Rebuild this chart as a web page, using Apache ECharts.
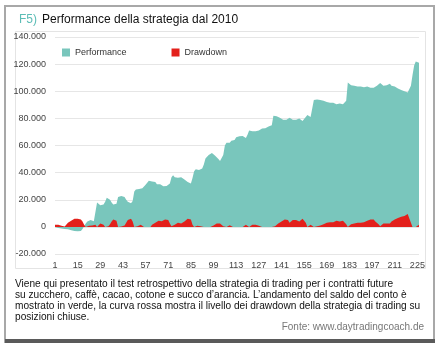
<!DOCTYPE html>
<html>
<head>
<meta charset="utf-8">
<script src="https://cdn.jsdelivr.net/npm/echarts@6/dist/echarts.min.js"></script>
<style>
  html, body { margin: 0; padding: 0; background: #fff; }
  #chart { width: 443px; height: 352px; }
</style>
</head>
<body>
<div id="chart"></div>
<script>
// trade number 1..226
var trades = [];
for (var n = 1; n <= 226; n++) trades.push(String(n));

// account equity (green area)
var performance = [
  0, -500, -800, -1000, -1200, -800, -1500, -2000, -1800, -2200,
  -2500, -2800, -3000, -2600, -3200, -3400, -3000, -1500, 500, 2500,
  4000, 3500, 5000, 4500, 4200, 5000, 18000, 17500, 16000, 15500,
  16500, 18500, 21500, 21000, 20000, 18000, 16500, 16000, 17000, 22000,
  23000, 22800, 22500, 22000, 20000, 18500, 18000, 17500, 19000, 26000,
  27500, 27000, 28000, 27000, 28500, 29500, 31000, 32500, 34000, 35000,
  33500, 33800, 33000, 31500, 31000, 31500, 31000, 30000, 29800, 30200,
  29500, 32000, 36500, 38000, 36500, 36000, 36200, 35500, 36500, 35800,
  35000, 34000, 33000, 32500, 32000, 36000, 41000, 42500, 42800, 42000,
  42500, 43000, 46000, 50500, 51500, 53000, 54000, 54500, 53500, 52500,
  52000, 50000, 48500, 48000, 53000, 60000, 62000, 62500, 62000, 63500,
  64500, 64000, 66000, 66500, 66800, 66500, 67000, 66000, 65500, 68000,
  71000, 71500, 70500, 70000, 70500, 70000, 71000, 72000, 72500, 72000,
  72800, 73500, 74000, 74500, 75000, 82000, 82500, 81500, 81000, 80500,
  80000, 79000, 78500, 79000, 78500, 80500, 80000, 79000, 78500, 79000,
  78500, 80000, 79500, 78000, 78500, 81000, 82500, 81500, 81000, 82000,
  93500, 94500, 94000, 94500, 93500, 94000, 93000, 92500, 92000, 92500,
  91500, 91000, 91500, 91000, 90500, 90500, 91000, 90500, 90500, 91500,
  93000, 106500, 105500, 104500, 105000, 104000, 104500, 103500, 103000, 103500,
  102500, 103000, 104000, 103500, 103000, 102500, 102000, 102500, 103500, 104000,
  104500, 106000, 105000, 104000, 103500, 104500, 104000, 105500, 104000, 103000,
  103500, 102500, 102000, 101500, 101000, 100500, 100000, 99500, 99000, 98500,
  104000, 112000, 119000, 122000, 122500, 121000
];

// closed-position drawdown (red area)
var drawdown = [
  1500, 1800, 1500, 1200, 800, 300, 200, 1500, 3000, 4000,
  4500, 5500, 6000, 6500, 6000, 6500, 5500, 4000, 1500, 0,
  600, 800, 500, 1000, 1200, 1500, 0, 1000, 2500, 3000,
  1500, 0, 0, 500, 2000, 4000, 5500, 6000, 4500, 0,
  0, 300, 800, 1000, 3000, 5000, 5800, 6000, 4000, 0,
  0, 500, 0, 1500, 500, 0, 0, 0, 0, 0,
  1500, 2000, 3000, 4000, 4500, 4000, 4200, 5000, 5500, 4500,
  5000, 2500, 500, 0, 1500, 2500, 3000, 3500, 2500, 3000,
  4000, 5000, 6000, 6500, 5500, 1500, 0, 0, 800, 1200,
  500, 1000, 0, 0, 0, 500, 0, 0, 1000, 2000,
  2500, 3000, 2500, 2000, 500, 0, 0, 800, 1200, 500,
  0, 600, 0, 0, 0, 300, 0, 1000, 1500, 500,
  0, 0, 1500, 2000, 1500, 2000, 800, 0, 0, 500,
  0, 0, 0, 0, 0, 0, 500, 1500, 2500, 3000,
  4000, 5000, 5500, 4500, 5000, 3000, 3500, 5000, 5500, 5000,
  5500, 4000, 4500, 6000, 5500, 3000, 0, 1000, 1500, 500,
  0, 0, 500, 0, 1000, 1500, 2000, 2500, 3000, 2500,
  3500, 4000, 3500, 4000, 4500, 4500, 4000, 4500, 4500, 3500,
  2000, 0, 1000, 2000, 1500, 2500, 2000, 3000, 3500, 3000,
  4000, 3500, 2500, 4500, 5000, 5500, 6000, 5500, 4000, 3000,
  2000, 500, 1500, 2500, 3000, 2500, 3500, 2500, 4000, 5000,
  5500, 6000, 6500, 7000, 7500, 7500, 8000, 8500, 9500, 10000,
  3000, 0, 0, 0, 0, 1500
];

var seriesNames = ['Performance', 'Drawdown'];
var caption = 'Viene qui presentato il test retrospettivo della strategia di trading per i contratti future\n' +
  'su zucchero, caffè, cacao, cotone e succo d’arancia. L’andamento del saldo del conto è\n' +
  'mostrato in verde, la curva rossa mostra il livello dei drawdown della strategia di trading su\n' +
  'posizioni chiuse.';
var source = 'Fonte: www.daytradingcoach.de';

var labelFont = '"Liberation Sans", Arial, sans-serif';

function fmt(v) {
  return String(v).replace(/\B(?=(\d{3})+(?!\d))/g, '.');
}

var chart = echarts.init(document.getElementById('chart'), null, { renderer: 'canvas' });

chart.setOption({
  animation: false,
  backgroundColor: '#fff',
  title: {
    left: 14,
    top: 6,
    text: '{a|F5)} {b|Performance della strategia dal 2010}',
    textStyle: {
      rich: {
        a: { color: '#5cbdb6', fontSize: 12, fontWeight: 'normal', fontFamily: labelFont },
        b: { color: '#111', fontSize: 12, fontWeight: 'normal', fontFamily: labelFont }
      }
    }
  },
  legend: {
    data: seriesNames,
    left: 62,
    top: 48,
    padding: 0,
    icon: 'rect',
    itemWidth: 8,
    itemHeight: 8,
    itemGap: 45,
    textStyle: { color: '#333', fontSize: 9, fontFamily: labelFont }
  },
  grid: { left: 55, right: 24, top: 37, bottom: 98 },
  xAxis: {
    type: 'category',
    data: trades,
    boundaryGap: false,
    axisLine: { show: false, onZero: false },
    axisTick: { show: false },
    axisLabel: { interval: 13, margin: 7, color: '#444', fontSize: 9, fontFamily: labelFont }
  },
  yAxis: {
    type: 'value',
    min: -20000,
    max: 140000,
    interval: 20000,
    axisLabel: { margin: 9, color: '#444', fontSize: 9, fontFamily: labelFont, formatter: fmt },
    splitLine: { lineStyle: { color: '#e6e6e6', width: 1 } }
  },
  series: [
    {
      name: 'Performance',
      type: 'line',
      data: performance,
      symbol: 'none',
      itemStyle: { color: '#79c6bc' },
      lineStyle: { width: 0 },
      areaStyle: { color: '#79c6bc', opacity: 1 }
    },
    {
      name: 'Drawdown',
      type: 'line',
      data: drawdown,
      symbol: 'none',
      itemStyle: { color: '#e3201b' },
      lineStyle: { width: 0 },
      areaStyle: { color: '#e3201b', opacity: 1 }
    }
  ],
  graphic: [
    {
      type: 'rect', z: -1, silent: true,
      shape: { x: 5, y: 6, width: 429, height: 336 },
      style: { fill: '#fff', stroke: '#a8a8a8', lineWidth: 2 }
    },
    {
      type: 'rect', z: -1, silent: true,
      shape: { x: 5, y: 339, width: 430, height: 4 },
      style: { fill: '#5a5a5a' }
    },
    {
      type: 'rect', z: -1, silent: true,
      shape: { x: 15.5, y: 31.5, width: 410, height: 237 },
      style: { fill: '#fff', stroke: '#e4e4e4', lineWidth: 1 }
    },
    {
      type: 'text', left: 15, top: 279,
      style: { text: caption, fill: '#111', fontSize: 10.15, lineHeight: 11, fontFamily: labelFont }
    },
    {
      type: 'text', right: 19, top: 322,
      style: { text: source, fill: '#777', fontSize: 10, fontFamily: labelFont }
    }
  ]
});
</script>
</body>
</html>
